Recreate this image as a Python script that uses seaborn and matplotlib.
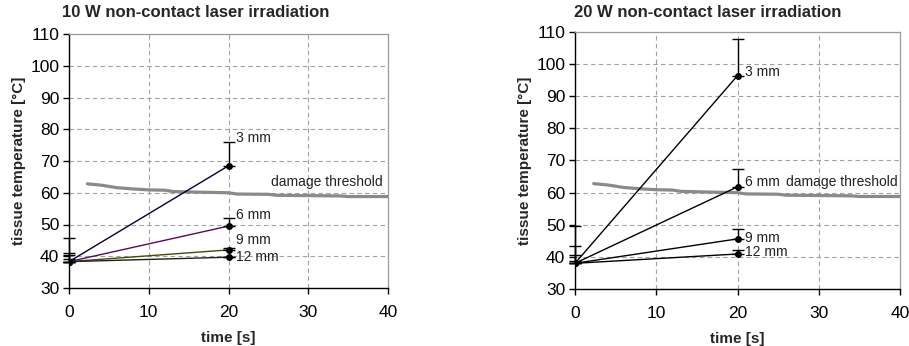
import numpy as np
import pandas as pd
import matplotlib
matplotlib.use("Agg")
import matplotlib.pyplot as plt
import seaborn as sns

# ---- data ----
series = ["3 mm", "6 mm", "9 mm", "12 mm"]
times = [0, 20]
start_10w = 38.3
end_10w = [68.5, 49.5, 42.0, 39.7]
err_end_10w = [7.4, 2.6, 0.7, 0.2]
err_start_10w = [7.3, 2.6, 2.0, 0.7]
start_20w = 38.0
end_20w = [96.4, 61.8, 45.6, 40.9]
err_end_20w = [11.3, 5.5, 3.0, 1.2]
err_start_20w = [11.6, 5.5, 2.6, 0.8]
label_y_10w = [77.3, 53.0, 45.1, 39.9]
label_y_20w = [97.6, 63.4, 45.8, 41.4]
colors_10w = ["#00003a", "#5a0a5a", "#4a4a00", "#202020"]
colors_20w = ["#000000", "#000000", "#000000", "#000000"]
thr_time = [2.3, 4.0, 6.0, 8.0, 10.0, 12.0, 13.0, 16.0, 20.0, 21.0, 25.0, 26.0, 30.0, 34.0, 35.0, 40.0]
thr_temp = [62.8, 62.4, 61.6, 61.2, 60.9, 60.8, 60.4, 60.2, 60.0, 59.6, 59.5, 59.2, 59.1, 59.0, 58.8, 58.8]
titles = ["10 W non-contact laser irradiation", "20 W non-contact laser irradiation"]

sns.set_style("ticks")
plt.rcParams["font.family"] = ["Liberation Sans", "DejaVu Sans"]

fig = plt.figure(figsize=(9.09, 3.46), dpi=100)
ax1 = fig.add_axes([69/909, 58/346, 319/909, 254/346])
ax2 = fig.add_axes([575/909, 57/346, 325/909, 257/346])

def draw(ax, start, ends, err_end, err_start, label_y, colors, title, title_x, thr_label_x, lab_x):
    rows = []
    for s, e in zip(series, ends):
        rows.append({"series": s, "time": times[0], "temp": start})
        rows.append({"series": s, "time": times[1], "temp": e})
    df = pd.DataFrame(rows)
    sns.lineplot(data=df, x="time", y="temp", hue="series", palette=dict(zip(series, colors)),
                 marker="o", markersize=5, markeredgewidth=0,
                 linewidth=1.0, legend=False, ax=ax, zorder=3)
    for line in ax.lines:
        line.set_marker("o")
        line.set_markerfacecolor("black")
    # error bars (upper only)
    for s, e, ee, es in zip(series, ends, err_end, err_start):
        ax.errorbar([times[1]], [e], yerr=[[0], [ee]], fmt="none", ecolor="black",
                    elinewidth=1.0, capsize=4, capthick=1.0, zorder=4)
        ax.errorbar([times[0]], [start], yerr=[[0], [es]], fmt="none", ecolor="black",
                    elinewidth=1.0, capsize=4, capthick=1.0, zorder=4, clip_on=False)
    # damage threshold
    thr = pd.DataFrame({"time": thr_time, "temp": thr_temp})
    sns.lineplot(data=thr, x="time", y="temp", color="#8a8a8a", linewidth=2.3, ax=ax, zorder=2)
    ax.text(thr_label_x, 63.3, "damage threshold", fontsize=10, va="center", ha="left", color="#222222")
    for s, ly in zip(series, label_y):
        ax.text(lab_x, ly, s, fontsize=10, va="center", ha="left", color="#222222")
    ax.set_xlim(0, 40)
    ax.set_ylim(30, 110)
    ax.set_xticks([0, 10, 20, 30, 40])
    ax.set_yticks(np.arange(30, 111, 10))
    ax.grid(True, color="#a0a0a0", linestyle=(0, (4, 3)), linewidth=0.8)
    ax.set_axisbelow(True)
    for side in ["top", "right"]:
        ax.spines[side].set_visible(True)
        ax.spines[side].set_color("#9a9a9a")
        ax.spines[side].set_linewidth(0.9)
    for side in ["left", "bottom"]:
        ax.spines[side].set_color("black")
        ax.spines[side].set_linewidth(1.0)
    ax.tick_params(axis="both", direction="out", length=4, width=1.0, labelsize=12.5, colors="black")
    ax.tick_params(axis="x", pad=8)
    ax.tick_params(axis="y", pad=3)
    ax.set_xlabel("time [s]", fontsize=11, fontweight="bold", labelpad=8)
    ax.set_ylabel("tissue temperature [°C]", fontsize=11, fontweight="bold", labelpad=3)
    fig.text(title_x, 1 - 12.7/346, title, fontsize=12, fontweight="bold", ha="left", va="center")

draw(ax1, start_10w, end_10w, err_end_10w, err_start_10w, label_y_10w, colors_10w, titles[0], 62/909, 25.3, 21.0)
draw(ax2, start_20w, end_20w, err_end_20w, err_start_20w, label_y_20w, colors_20w, titles[1], 574/909, 26.0, 20.9)

fig.savefig("out.png", dpi=100)
